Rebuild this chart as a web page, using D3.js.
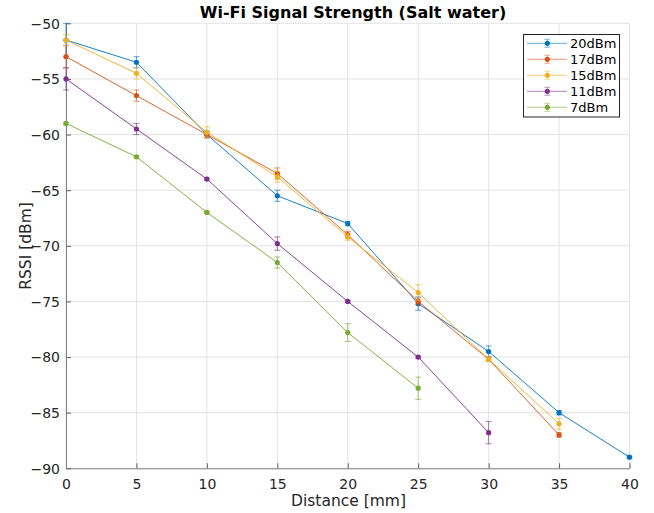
<!DOCTYPE html>
<html><head><meta charset="utf-8">
<script src="https://cdn.jsdelivr.net/npm/d3@7"></script>
<style>body{margin:0;background:#fff;} svg{display:block;font-family:"DejaVu Sans",sans-serif;}</style>
</head><body>
<svg id="c" width="654" height="513"></svg>
<script>
const distances = [0,5,10,15,20,25,30,35,40];
const seriesNames = ["20dBm","17dBm","15dBm","11dBm","7dBm"];
const colors = ["#0072BD","#D95319","#EDB120","#7E2F8E","#77AC30"];
const rssi20 = [-51.5,-53.5,-60,-65.5,-68,-75.2,-79.5,-85,-89];
const err20  = [1.5,0.5,0.3,0.5,0.2,0.6,0.5,0.2,0.1];
const rssi17 = [-53,-56.5,-60,-63.5,-69,-75,-80.2,-87];
const err17  = [1,0.5,0.3,0.5,0.3,0.3,0.2,0.2];
const rssi15 = [-51.5,-54.5,-59.8,-63.8,-69.2,-74.2,-80.2,-86];
const err15  = [0.5,0.5,0.5,0.5,0.3,0.7,0.2,0.5];
const rssi11 = [-55,-59.5,-64,-69.8,-75,-80,-86.8];
const err11  = [1,0.5,0.1,0.6,0.1,0.1,1];
const rssi7  = [-59,-62,-67,-71.5,-77.8,-82.8];
const err7   = [0.1,0.1,0.1,0.5,0.8,1.0];
const xTicks = [0,5,10,15,20,25,30,35,40];
const yTicks = [-50,-55,-60,-65,-70,-75,-80,-85,-90];

const values = [rssi20,rssi17,rssi15,rssi11,rssi7];
const errors = [err20,err17,err15,err11,err7];

const svg = d3.select("#c");
const L=66, R=629.5, T=23.3, B=468.3;
const x = d3.scaleLinear().domain([0,40]).range([L,R]);
const y = d3.scaleLinear().domain([-90,-50]).range([B,T]);

// grid
const g = svg.append("g");
g.selectAll(".gx").data(xTicks).join("line")
  .attr("x1",d=>x(d)).attr("x2",d=>x(d)).attr("y1",T).attr("y2",B)
  .attr("stroke","#e3e3e3").attr("stroke-width",1);
g.selectAll(".gy").data(yTicks).join("line")
  .attr("x1",L).attr("x2",R).attr("y1",d=>y(d)).attr("y2",d=>y(d))
  .attr("stroke","#e3e3e3").attr("stroke-width",1);

// axes
const xAxis = d3.axisBottom(x).tickValues(xTicks).tickSize(-5).tickPadding(9).tickSizeOuter(0);
const yAxis = d3.axisLeft(y).tickValues(yTicks).tickSize(-5).tickPadding(6).tickSizeOuter(0);
const gx = svg.append("g").attr("transform",`translate(0,${B})`).call(xAxis);
const gy = svg.append("g").attr("transform",`translate(${L},0)`).call(yAxis);
[gx,gy].forEach(a=>{
  a.select(".domain").attr("stroke","#808080").attr("stroke-width",1);
  a.selectAll(".tick line").attr("stroke","#606060");
  a.selectAll(".tick text").attr("fill","#262626").style("font-size","14px").style("font-family","DejaVu Sans");
});
gx.selectAll(".tick text").attr("dy","0.85em");
gy.selectAll(".tick text").attr("dy","0.35em");

// series
values.forEach((vals,i)=>{
  const pts = vals.map((v,j)=>({x:distances[j],y:v,e:errors[i][j]}));
  const sg = svg.append("g");
  sg.append("path").datum(pts)
    .attr("d",d3.line().x(d=>x(d.x)).y(d=>y(d.y)))
    .attr("fill","none").attr("stroke",colors[i]).attr("stroke-width",0.9);
  sg.selectAll(".eb").data(pts).join("path")
    .attr("d",d=>{const x0=x(d.x),y1=y(d.y+d.e),y2=y(d.y-d.e);
      return `M${x0},${y1}V${y2}M${x0-3},${y1}H${x0+3}M${x0-3},${y2}H${x0+3}`;})
    .attr("fill","none").attr("stroke",colors[i]).attr("stroke-width",0.8).attr("opacity",0.8);
  sg.selectAll("circle").data(pts).join("circle")
    .attr("cx",d=>x(d.x)).attr("cy",d=>y(d.y)).attr("r",2.6).attr("fill",colors[i]);
});

// title & labels
svg.append("text").attr("x",353).attr("y",18).attr("text-anchor","middle")
  .style("font-size","16px").style("font-weight","bold").attr("fill","#000")
  .text("Wi-Fi Signal Strength (Salt water)");
svg.append("text").attr("x",348.5).attr("y",506).attr("text-anchor","middle")
  .style("font-size","15.5px").attr("fill","#262626").text("Distance [mm]");
svg.append("text").attr("transform","translate(31,246) rotate(-90)").attr("text-anchor","middle")
  .style("font-size","15.5px").attr("fill","#262626").text("RSSI [dBm]");

// legend
const lg = svg.append("g");
lg.append("rect").attr("x",523.5).attr("y",34.5).attr("width",96).attr("height",82.5)
  .attr("fill","#fff").attr("stroke","#262626").attr("stroke-width",1);
seriesNames.forEach((n,i)=>{
  const yy = 43.3 + i*16;
  lg.append("line").attr("x1",527).attr("x2",567).attr("y1",yy).attr("y2",yy)
    .attr("stroke",colors[i]).attr("stroke-width",1).attr("opacity",0.6);
  lg.append("path").attr("d",`M547.3,${yy-4}V${yy+4}M544.3,${yy-4}H550.3M544.3,${yy+4}H550.3`)
    .attr("stroke",colors[i]).attr("stroke-width",0.8).attr("fill","none").attr("opacity",0.6);
  lg.append("circle").attr("cx",547.3).attr("cy",yy).attr("r",2.6).attr("fill",colors[i]);
  lg.append("text").attr("x",570).attr("y",yy).attr("dy","0.35em")
    .style("font-size","13px").attr("fill","#000").text(n);
});
</script>
</body></html>
